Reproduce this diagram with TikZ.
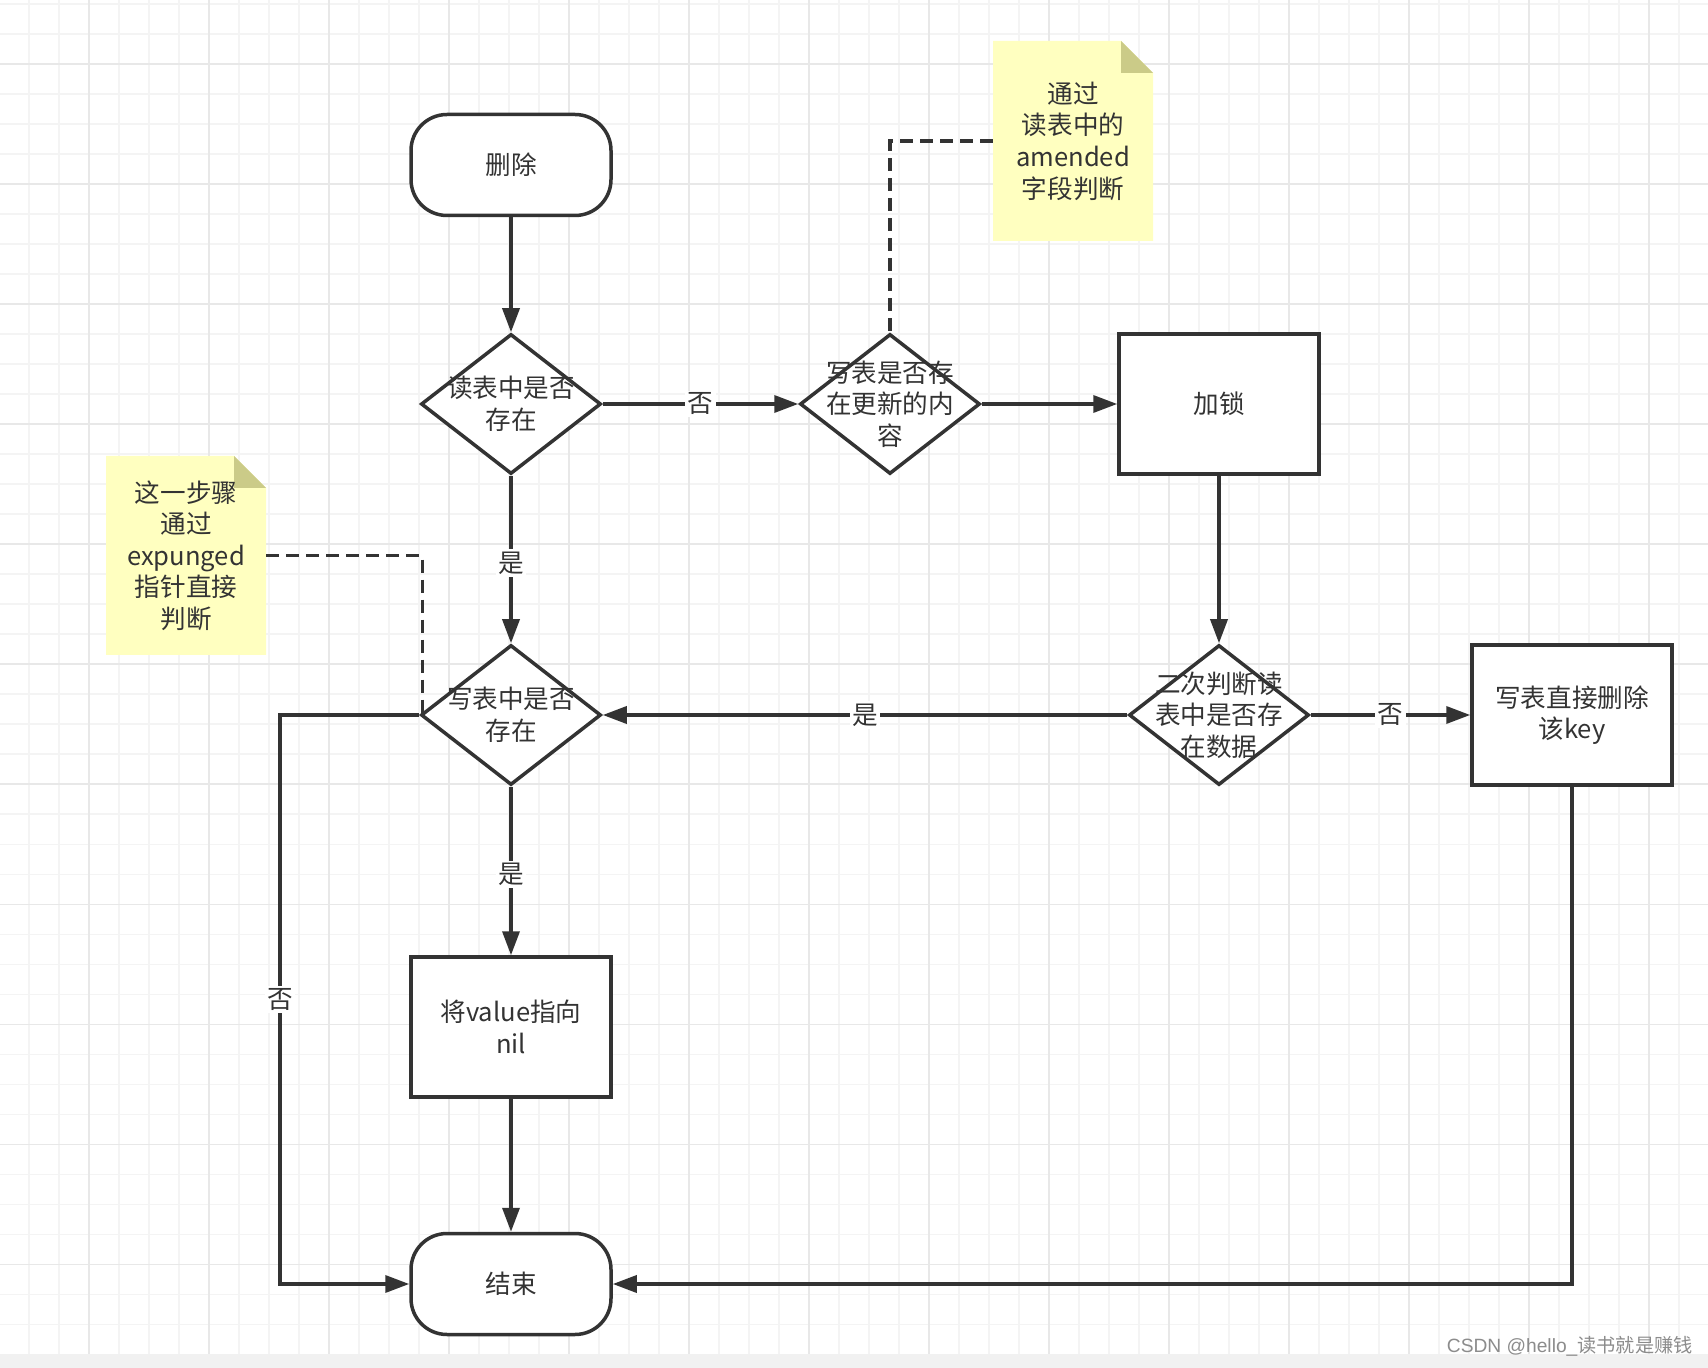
\documentclass[tikz,border=0pt]{standalone}
\usepackage{fontspec}
\setmainfont{Noto Sans CJK SC}
\newfontfamily\wmlatin{Liberation Sans}
\usetikzlibrary{shapes.geometric,arrows.meta,calc}
\definecolor{ink}{HTML}{333333}
\definecolor{gridminor}{HTML}{F4F4F4}
\definecolor{gridmajor}{HTML}{E8E8E8}
\definecolor{bandgray}{HTML}{F1F1F1}
\definecolor{notefill}{HTML}{FFFFC0}
\definecolor{notefold}{HTML}{CBCB88}
\definecolor{wmgray}{HTML}{8C8C8C}
\newcommand\nodefont{\fontsize{12.8}{15.8}\selectfont}
\begin{document}
\begin{tikzpicture}[x=0.5pt,y=-0.5pt,
  line/.style={draw=ink, line width=1.75pt},
  term/.style={line, fill=white, rounded corners=18pt, minimum width=100pt, minimum height=50.5pt, inner sep=0pt, text=ink, font=\nodefont},
  proc/.style={line, fill=white, minimum width=100pt, minimum height=70pt, inner sep=0pt, align=center, text=ink, font=\nodefont},
  dec/.style={diamond, line, fill=white, minimum width=90pt, minimum height=70pt, inner sep=0pt},
  dectext/.style={align=center, text=ink, font=\nodefont, inner sep=0pt},
  notetext/.style={minimum width=80pt, minimum height=100pt, inner sep=0pt, align=center, text=ink, font=\nodefont},
  arr/.style={line, -{Triangle[length=12pt,width=8.5pt]}},
  dline/.style={line, dash pattern=on 6.5pt off 3.5pt},
  lbl/.style={fill=white, inner sep=1.2pt, text=ink, font=\nodefont}]
\useasboundingbox (0,0) rectangle (1708,1368);
\fill[white] (0,0) rectangle (1708,1368);
% grid
\foreach \i in {0,...,56} { \draw[gridminor, line width=0.8pt] (29+30*\i,0) -- (29+30*\i,1354); }
\foreach \i in {0,...,44} { \draw[gridminor, line width=0.8pt] (0,4.3+30*\i) -- (1708,4.3+30*\i); }
\foreach \i in {0,...,13} { \draw[gridmajor, line width=0.8pt] (89+120*\i,0) -- (89+120*\i,1354); }
\foreach \i in {0,...,10} { \draw[gridmajor, line width=0.8pt] (0,64.3+120*\i) -- (1708,64.3+120*\i); }
\fill[bandgray] (0,1354) rectangle (1708,1368);

% notes
\fill[notefill] (993,41) -- (1121,41) -- (1153,73) -- (1153,241) -- (993,241) -- cycle;
\fill[notefold] (1121,41) -- (1121,73) -- (1153,73) -- cycle;
\node[notetext] (n1) at (1073,141) {通过\\读表中的\\amended\\字段判断};
\fill[notefill] (106,456) -- (234,456) -- (266,488) -- (266,655) -- (106,655) -- cycle;
\fill[notefold] (234,456) -- (234,488) -- (266,488) -- cycle;
\node[notetext, minimum height=99.5pt] (n2) at (186,555.5) {这一步骤\\通过\\expunged\\指针直接\\判断};

% nodes
\node[term] (start) at (511,165) {删除};
\node[dec, label={[dectext]center:读表中是否\\存在}] (d1) at (511,404) {};
\node[dec, label={[dectext]center:写表是否存\\在更新的内\\容}] (d2) at (890,404) {};
\node[proc] (lock) at (1219,404) {加锁};
\node[dec, label={[dectext]center:二次判断读\\表中是否存\\在数据}] (d3) at (1219,715) {};
\node[proc] (del) at (1572,715) {写表直接删除\\该key};
\node[dec, label={[dectext]center:写表中是否\\存在}] (dW) at (511,715) {};
\node[proc] (setnil) at (511,1027) {将value指向\\nil};
\node[term] (end) at (511,1284) {结束};
\coordinate (lc) at (280,715);

% dashed note connectors
\draw[dline] (n1.west) -| (d2.north);
\draw[dline] (n2.east) -| ($(dW.west)+(3,0)$);

% connectors
\draw[arr] (start.south) -- (d1.north);
\draw[arr] (d1.east) -- node[lbl]{否} (d2.west);
\draw[arr] (d2.east) -- (lock.west);
\draw[arr] (lock.south) -- (d3.north);
\draw[arr] (d3.west) -- node[lbl]{是} (dW.east);
\draw[arr] (d3.east) -- node[lbl]{否} (del.west);
\draw[arr] (d1.south) -- node[lbl,pos=0.52]{是} (dW.north);
\draw[arr] (dW.south) -- node[lbl,pos=0.52]{是} (setnil.north);
\draw[arr] (setnil.south) -- (end.north);
\draw[arr] (dW.west) -- (lc) |- node[lbl,pos=0.25]{否} (end.west);
\draw[arr] (del.south) |- (end.east);

% watermark
\node[anchor=east, inner sep=0pt, text=wmgray, font=\fontsize{9.6}{11}\selectfont] (wm) at (1693,1346) {{\wmlatin CSDN @hello\_}读书就是赚钱};
\end{tikzpicture}
\end{document}
